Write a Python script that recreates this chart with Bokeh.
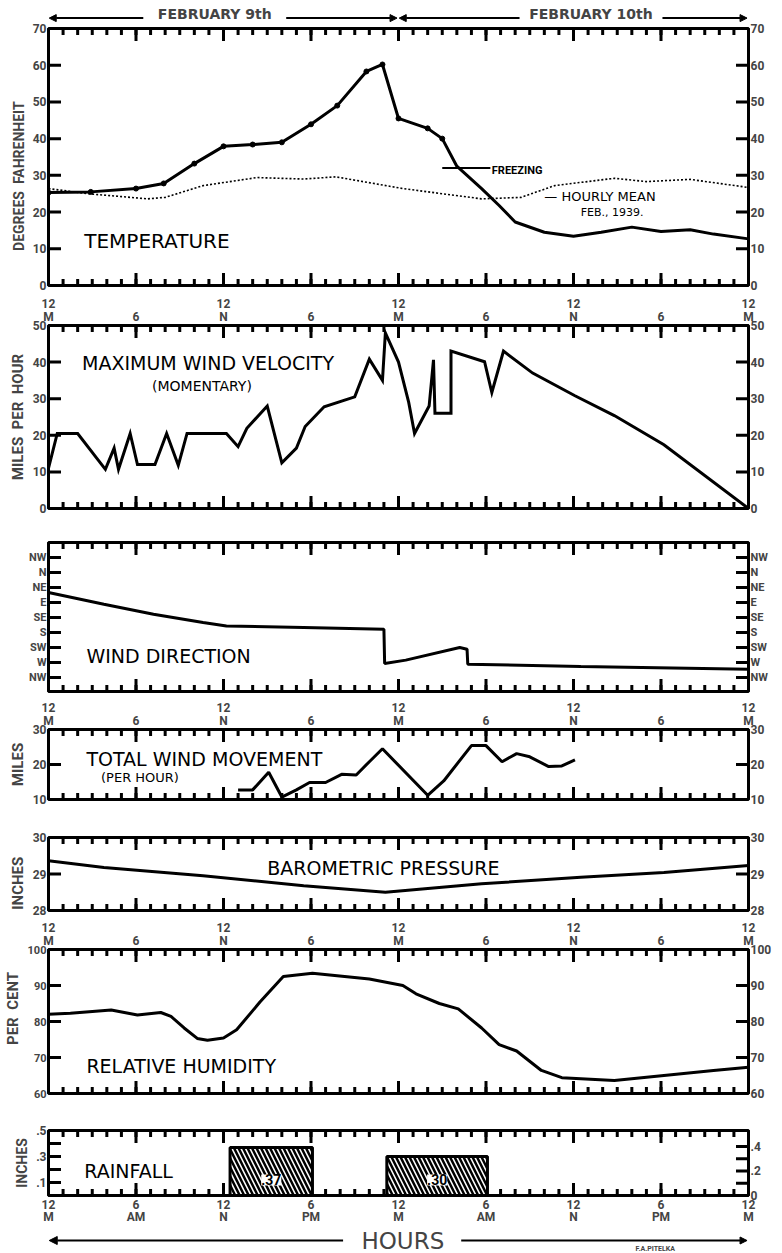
from math import pi
from bokeh.plotting import figure
from bokeh.layouts import column
from bokeh.models import (Range1d, LinearAxis, FixedTicker, Label, Arrow, NormalHead)
from bokeh.embed import file_html
from bokeh.resources import INLINE

# ---------------- data ----------------
all_hours = list(range(0, 49))
major_hours = [0, 6, 12, 18, 24, 30, 36, 42, 48]
hour_labels = ["12\nM", "6", "12\nN", "6", "12\nM", "6", "12\nN", "6", "12\nM"]
ampm_labels = ["12\nM", "6\nAM", "12\nN", "6\nPM", "12\nM", "6\nAM", "12\nN", "6\nPM", "12\nM"]
day_labels = ["FEBRUARY 9th", "FEBRUARY 10th"]
day_bounds = [0, 24, 48]

temp_hours = [0, 2.9, 6, 7.9, 10, 12, 14, 16, 18, 19.8, 21.8, 22.9, 24, 26, 27,
              28, 29.7, 30.9, 32, 34, 36, 37.9, 40, 42, 44, 45.6, 48]
temp_values = [25.3, 25.5, 26.4, 27.8, 33.2, 37.9, 38.4, 39, 43.9, 49, 58.3, 60.2,
               45.5, 42.8, 40, 32.5, 26.4, 21.8, 17.3, 14.5, 13.4, 14.5, 15.9,
               14.7, 15.2, 14, 12.7]
temp_obs_hours = [0, 2.9, 6, 7.9, 10, 12, 14, 16, 18, 19.8, 21.8, 22.9, 24, 26, 27]
temp_obs_values = [25.3, 25.5, 26.4, 27.8, 33.2, 37.9, 38.4, 39, 43.9, 49, 58.3,
                   60.2, 45.5, 42.8, 40]
mean_hours = [0, 2.7, 6.8, 8, 10.6, 14.3, 17.5, 19.7, 24.3, 29.7, 32.4, 34.7,
              38.8, 41, 44, 48]
mean_values = [26.4, 25, 23.6, 24, 27.2, 29.4, 29, 29.6, 26.4, 23.6, 24, 27.2,
               29.2, 28.3, 28.9, 26.7]
freezing_temp = 32
freezing_hours = [27.0, 30.3]
temp_ticks = [0, 10, 20, 30, 40, 50, 60, 70]

wind_hours = [0, 0.6, 2.0, 3.9, 4.5, 4.8, 5.6, 6.1, 7.3, 8.1, 8.9, 9.5, 12.2, 13.0,
              13.6, 15.0, 16.0, 17.0, 17.6, 18.9, 21.0, 22.0, 22.9, 23.1, 24.0,
              24.7, 25.1, 26.1, 26.4, 26.5, 27.6, 27.6, 29.9, 30.4, 31.2, 33.2,
              36.1, 38.8, 42.2, 48.0]
wind_mph = [11, 20.5, 20.5, 10.7, 16.5, 10.7, 20.5, 12, 12, 20.5, 11.8, 20.5,
            20.5, 16.9, 21.9, 28, 12.5, 16.5, 22.4, 27.8, 30.5, 40.8, 35, 48, 40,
            29, 20.5, 28, 40.6, 26, 26, 43, 40.1, 31.7, 43, 37, 30.8, 25.4, 17.4, 0]
wind_ticks = [0, 10, 20, 30, 40, 50]

dir_labels = ["NW", "W", "SW", "S", "SE", "E", "NE", "N", "NW"]
dir_ticks = [0, 1, 2, 3, 4, 5, 6, 7, 8]
dir_hours = [0, 3.8, 7.2, 10.6, 12.2, 17.5, 23.0, 23.05, 24.5, 28.2, 28.7, 28.75,
             36.5, 48]
dir_values = [5.67, 4.89, 4.22, 3.67, 3.44, 3.33, 3.22, 0.93, 1.16, 2.0, 1.89,
              0.89, 0.73, 0.56]

move_hours = [13, 14, 15.1, 16, 17, 17.9, 19, 20.1, 21.1, 22, 22.9, 26, 27.1, 29,
              30, 31.1, 32.1, 33, 34.3, 35.2, 36.1]
move_miles = [12.75, 12.75, 17.8, 10.7, 12.75, 14.85, 14.85, 17.2, 17, 20.8, 24.5,
              11.2, 15.3, 25.4, 25.4, 20.8, 23.1, 22.2, 19.4, 19.6, 21.3]
move_ticks = [10, 20, 30]

baro_hours = [0, 3.8, 10.6, 17.5, 23.1, 29.7, 36.5, 42.2, 48]
baro_inches = [29.36, 29.18, 28.95, 28.68, 28.5, 28.73, 28.91, 29.04, 29.23]
baro_ticks = [28, 29, 30]

rh_hours = [0, 1.5, 4.3, 6.1, 7.7, 8.4, 9.3, 10.2, 10.9, 12, 12.9, 14.5, 16.1, 18.1,
            22, 24.3, 25.2, 26.8, 28.1, 29.7, 30.9, 32.1, 33.8, 35.2, 38.8, 42.2,
            45.6, 48]
rh_values = [82, 82.3, 83.2, 81.8, 82.5, 81.4, 78.2, 75.3, 74.8, 75.4, 77.7, 85.4,
             92.5, 93.4, 91.8, 90, 87.7, 85, 83.5, 78.2, 73.6, 71.8, 66.4, 64.4,
             63.6, 65, 66.4, 67.3]
rh_ticks = [60, 70, 80, 90, 100]

rain_start = [12.45, 23.2]
rain_end = [18.1, 30.1]
rain_inches = [0.37, 0.30]
rain_text = [".37", ".30"]
rain_left_ticks = [0.1, 0.2, 0.3, 0.4, 0.5]
rain_left_labels = [".1", "", ".3", "", ".5"]
rain_right_ticks = [0.0, 0.1, 0.2, 0.3, 0.4]
rain_right_labels = ["0", "", ".2", "", ".4"]

# ---------------- helpers ----------------
FONT = "Roboto"
TFONT = "DejaVu Sans"
W = 782
LB, RB = 44, 34
NB = "\u00a0"


def panel(height, top, bottom, y0, y1):
    p = figure(width=W, height=height, x_range=Range1d(0, 48),
               y_range=Range1d(y0, y1), output_backend="svg",
               toolbar_location=None, title=None, x_axis_location=None,
               y_axis_location=None, min_border_left=LB, min_border_right=RB,
               min_border_top=top, min_border_bottom=bottom,
               outline_line_color="black", outline_line_width=3,
               background_fill_color="white", border_fill_color="white")
    p.grid.visible = False
    return p


def hour_ticks(p, y0, y1):
    for y in (y0, y1):
        p.scatter(all_hours, [y] * len(all_hours), marker="dash", angle=pi / 2,
                  size=13, line_width=3, line_color="black")
        p.scatter(major_hours, [y] * len(major_hours), marker="dash", angle=pi / 2,
                  size=25, line_width=3, line_color="black")


def value_ticks(p, ticks, x, range_name="default"):
    p.scatter([x] * len(ticks), ticks, marker="dash", size=25, line_width=3,
              line_color="black", y_range_name=range_name)


def hour_axis(p, side, labels):
    ax = LinearAxis(ticker=FixedTicker(ticks=major_hours, minor_ticks=[]),
                    axis_line_width=3, axis_line_color="black",
                    major_tick_in=0, major_tick_out=0, minor_tick_in=0,
                    minor_tick_out=0,
                    major_label_overrides={h: l for h, l in zip(major_hours, labels)},
                    major_label_text_font=FONT, major_label_text_font_style="bold",
                    major_label_text_font_size="12px",
                    major_label_text_line_height=0.92, major_label_standoff=2)
    p.add_layout(ax, side)


def value_axis(p, side, ticks, labels, axis_label=None, range_name="default",
               size="12px", label_size="14px"):
    ax = LinearAxis(ticker=FixedTicker(ticks=ticks, minor_ticks=[]),
                    y_range_name=range_name,
                    axis_line_width=3, axis_line_color="black",
                    major_tick_in=0, major_tick_out=0,
                    minor_tick_in=0, minor_tick_out=0,
                    major_label_overrides={t: l for t, l in zip(ticks, labels)},
                    major_label_text_font=FONT, major_label_text_font_style="bold",
                    major_label_text_font_size=size, major_label_standoff=2)
    if axis_label:
        ax.axis_label = axis_label
        ax.axis_label_text_font = FONT
        ax.axis_label_text_font_style = "bold"
        ax.axis_label_text_font_size = label_size
        ax.axis_label_standoff = 3
    p.add_layout(ax, side)


def title(p, x, y, text, size="19px", style="normal", font=TFONT):
    p.add_layout(Label(x=x, y=y, text=text, text_font=font, text_font_size=size,
                       text_font_style=style, text_baseline="middle",
                       text_align="left", text_color="black"))


def strip(height):
    s = figure(width=W, height=height, x_range=Range1d(0, 48), y_range=Range1d(0, 1),
               output_backend="svg", toolbar_location=None, title=None,
               x_axis_location=None, y_axis_location=None, min_border_left=LB,
               min_border_right=RB, min_border_top=0, min_border_bottom=0,
               outline_line_color=None, border_fill_color="white",
               background_fill_color="white")
    s.grid.visible = False
    return s


# ---------------- header ----------------
hdr = strip(22)
for i, (lab, mid) in enumerate(zip(day_labels, [11.4, 37.2])):
    hdr.add_layout(Label(x=mid, y=0.38, text=lab, text_font=TFONT,
                         text_font_size="14px", text_font_style="bold",
                         text_align="center", text_baseline="middle"))
    a, b = day_bounds[i], day_bounds[i + 1]
    hdr.add_layout(Arrow(x_start=mid - 4.9, y_start=0.2, x_end=a + 0.05, y_end=0.2,
                         line_width=2, end=NormalHead(size=7, line_width=1)))
    hdr.add_layout(Arrow(x_start=mid + 4.9, y_start=0.2, x_end=b - 0.1, y_end=0.2,
                         line_width=2, end=NormalHead(size=7, line_width=1)))

# ---------------- temperature ----------------
p1 = panel(271, 6, 8, 0, 70)
hour_ticks(p1, 0, 70)
value_ticks(p1, temp_ticks, 0)
value_ticks(p1, temp_ticks, 48)
value_axis(p1, "left", temp_ticks, [str(t) for t in temp_ticks],
           axis_label="DEGREES" + NB * 2 + "FAHRENHEIT" + NB * 11, label_size="14px")
value_axis(p1, "right", temp_ticks, [str(t) for t in temp_ticks])
p1.line(mean_hours, mean_values, line_width=1.6, line_dash="2 2", color="black")
p1.line(temp_hours, temp_values, line_width=3, color="black")
p1.scatter(temp_obs_hours, temp_obs_values, size=5, color="black")
p1.line(freezing_hours, [freezing_temp] * len(freezing_hours), line_width=2,
        color="black")
title(p1, 2.45, 12.1, "TEMPERATURE", size="20px")
title(p1, 30.4, 31.4, "FREEZING", size="11px", style="bold", font=FONT)
title(p1, 34.0, 24.2, "\u2014 HOURLY MEAN", size="13px")
title(p1, 36.5, 19.9, "FEB., 1939.", size="11px")

# ---------------- wind velocity ----------------
p2 = panel(222, 29, 7, 0, 50)
hour_ticks(p2, 0, 50)
value_ticks(p2, wind_ticks, 0)
value_ticks(p2, wind_ticks, 48)
hour_axis(p2, "above", hour_labels)
value_axis(p2, "left", wind_ticks, [str(t) for t in wind_ticks],
           axis_label="MILES" + NB * 2 + "PER" + NB * 2 + "HOUR", label_size="15px")
value_axis(p2, "right", wind_ticks, [str(t) for t in wind_ticks])
p2.line(wind_hours, wind_mph, line_width=3, color="black", line_join="miter")
title(p2, 2.3, 39.8, "MAXIMUM WIND VELOCITY")
title(p2, 7.1, 33.6, "(MOMENTARY)", size="14px")

# ---------------- wind direction ----------------
p3 = panel(182, 27, 6, -0.93, 9.0)
hour_ticks(p3, -0.93, 9.0)
value_ticks(p3, dir_ticks, 0)
value_ticks(p3, dir_ticks, 48)
value_axis(p3, "left", dir_ticks, dir_labels, size="11px")
value_axis(p3, "right", dir_ticks, dir_labels, size="11px")
p3.line(dir_hours, dir_values, line_width=3, color="black")
title(p3, 2.6, 1.41, "WIND DIRECTION")

# ---------------- total wind movement ----------------
p4 = panel(109, 30, 7, 10, 30)
hour_ticks(p4, 10, 30)
value_ticks(p4, move_ticks, 0)
value_ticks(p4, move_ticks, 48)
hour_axis(p4, "above", hour_labels)
value_axis(p4, "left", move_ticks, [str(t) for t in move_ticks], axis_label="MILES",
           label_size="15px")
value_axis(p4, "right", move_ticks, [str(t) for t in move_ticks])
p4.line(move_hours, move_miles, line_width=3, color="black")
title(p4, 2.6, 21.65, "TOTAL WIND MOVEMENT")
title(p4, 3.6, 16.4, "(PER HOUR)", size="13px")

# ---------------- barometric pressure ----------------
p5 = panel(111, 31, 7, 28, 30)
hour_ticks(p5, 28, 30)
value_ticks(p5, baro_ticks, 0)
value_ticks(p5, baro_ticks, 48)
value_axis(p5, "left", baro_ticks, [str(t) for t in baro_ticks],
           axis_label="INCHES" + NB * 5, label_size="15px")
value_axis(p5, "right", baro_ticks, [str(t) for t in baro_ticks])
p5.line(baro_hours, baro_inches, line_width=3, color="black")
title(p5, 15.0, 29.17, "BAROMETRIC PRESSURE")

# ---------------- relative humidity ----------------
p6 = panel(183, 30, 7, 60, 100)
hour_ticks(p6, 60, 100)
value_ticks(p6, rh_ticks, 0)
value_ticks(p6, rh_ticks, 48)
hour_axis(p6, "above", hour_labels)
value_axis(p6, "left", rh_ticks, [str(t) for t in rh_ticks],
           axis_label=NB * 7 + "PER" + NB * 2 + "CENT", size="11px", label_size="15px")
value_axis(p6, "right", rh_ticks, [str(t) for t in rh_ticks], size="12px")
p6.line(rh_hours, rh_values, line_width=3, color="black")
title(p6, 2.6, 67.6, "RELATIVE HUMIDITY")

# ---------------- rainfall ----------------
p7 = panel(127, 30, 26, 0, 0.5)
p7.extra_y_ranges = {"r": Range1d(0, 0.53)}
hour_ticks(p7, 0, 0.5)
value_ticks(p7, rain_left_ticks, 0)
value_ticks(p7, rain_right_ticks, 48, range_name="r")
hour_axis(p7, "below", ampm_labels)
value_axis(p7, "left", rain_left_ticks, rain_left_labels, axis_label="INCHES",
           label_size="14px")
value_axis(p7, "right", rain_right_ticks, rain_right_labels, range_name="r")
p7.quad(left=rain_start, right=rain_end, top=rain_inches,
        bottom=[0] * len(rain_inches), fill_color="white", line_color="black",
        line_width=3, hatch_pattern="\\", hatch_color="black", hatch_weight=2.5,
        hatch_scale=9)
for a, b, t in zip(rain_start, rain_end, rain_text):
    p7.add_layout(Label(x=(a + b) / 2, y=0.12, text=t, text_font=FONT,
                        text_font_size="14px", text_font_style="bold",
                        text_align="center", text_baseline="middle",
                        text_color="black", background_fill_color="white",
                        background_fill_alpha=1.0))
title(p7, 2.45, 0.188, "RAINFALL")

# ---------------- footer ----------------
ftr = strip(26)
ftr.add_layout(Label(x=24.3, y=0.5, text="HOURS", text_font=TFONT,
                     text_font_size="23px", text_align="center",
                     text_baseline="middle"))
ftr.add_layout(Arrow(x_start=20.2, y_start=0.5, x_end=0.05, y_end=0.5, line_width=2,
                     end=NormalHead(size=8, line_width=1)))
ftr.add_layout(Arrow(x_start=28.3, y_start=0.5, x_end=47.9, y_end=0.5, line_width=2,
                     end=NormalHead(size=7, line_width=1)))
ftr.add_layout(Label(x=41.6, y=0.02, text="F.A.PITELKA", text_font=FONT,
                     text_font_size="7px", text_font_style="bold",
                     text_align="center", text_baseline="bottom"))

layout = column(hdr, p1, p2, p3, p4, p5, p6, p7, ftr, spacing=0)
open("out.html", "w").write(file_html(layout, INLINE))
